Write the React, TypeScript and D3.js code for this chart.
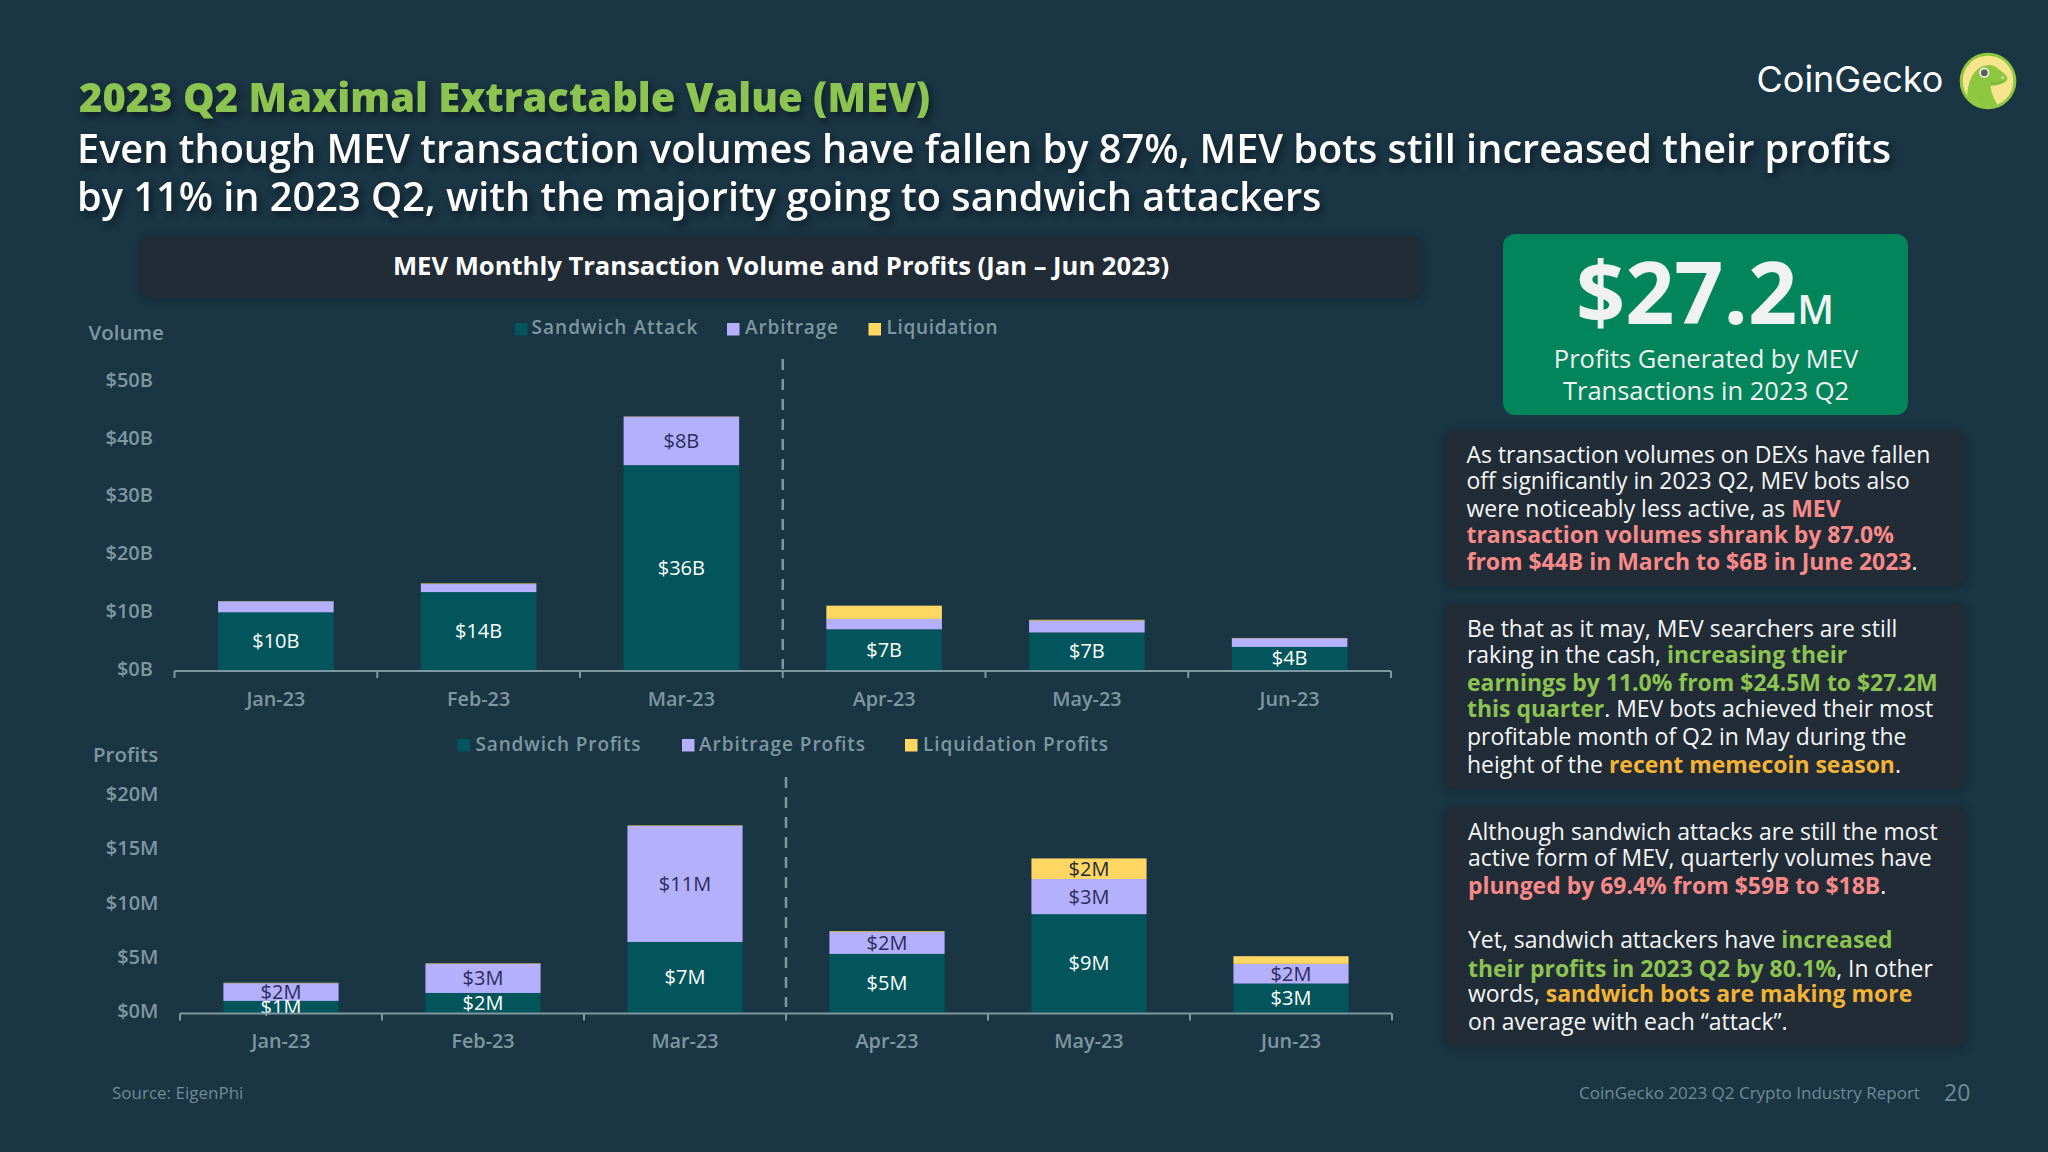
import React from "react";
import * as d3 from "d3";

const months = ["Jan-23", "Feb-23", "Mar-23", "Apr-23", "May-23", "Jun-23"];
const volumeSandwich = [10.0, 13.5, 35.5, 7.05, 6.5, 4.0];
const volumeArbitrage = [1.9, 1.4, 8.4, 1.8, 2.05, 1.5];
const volumeLiquidation = [0.05, 0.1, 0.05, 2.3, 0.15, 0.05];
const profitSandwich = [1.07, 1.8, 6.5, 5.4, 9.06, 2.67];
const profitArbitrage = [1.63, 2.68, 10.69, 2.03, 3.24, 1.81];
const profitLiquidation = [0.04, 0.05, 0.05, 0.07, 1.9, 0.71];
const volumeTicks = [0, 10, 20, 30, 40, 50];
const profitTicks = [0, 5, 10, 15, 20];
const volumeLegend = ["Sandwich Attack", "Arbitrage", "Liquidation"];
const profitLegend = ["Sandwich Profits", "Arbitrage Profits", "Liquidation Profits"];

const FONT = "'Open Sans', sans-serif";
const BG = "#1a3543";
const CARD = "#212c37";
const TEAL = "#02565b";
const LAV = "#b4b0fb";
const YEL = "#ffd762";
const AXIS = "#7e98a2";
const GREEN = "#8cc351";
const RED = "#f98a8a";
const ORANGE = "#f5b335";
const WHITE = "#f6f7f8";
const seriesColors = [TEAL, LAV, YEL];
const labelColors = ["#ffffff", "#2c2c5e", "#1e2b35"];

type Seg = [string, string?];
type Line = { y: number; segs: Seg[] };

const card1: Line[] = [
  { y: 463, segs: [["As transaction volumes on DEXs have fallen"]] },
  { y: 489, segs: [["off significantly in 2023 Q2, MEV bots also"]] },
  { y: 516.5, segs: [["were noticeably less active, as "], ["MEV", RED]] },
  { y: 542.5, segs: [["transaction volumes shrank by 87.0%", RED]] },
  { y: 570, segs: [["from $44B in March to $6B in June 2023", RED], ["."]] },
];
const card2: Line[] = [
  { y: 637, segs: [["Be that as it may, MEV searchers are still"]] },
  { y: 662.5, segs: [["raking in the cash, "], ["increasing their", GREEN]] },
  { y: 691, segs: [["earnings by 11.0% from $24.5M to $27.2M", GREEN]] },
  { y: 717, segs: [["this quarter", GREEN], [". MEV bots achieved their most"]] },
  { y: 744.5, segs: [["profitable month of Q2 in May during the"]] },
  { y: 773, segs: [["height of the "], ["recent memecoin season", ORANGE], ["."]] },
];
const card3: Line[] = [
  { y: 840, segs: [["Although sandwich attacks are still the most"]] },
  { y: 866, segs: [["active form of MEV, quarterly volumes have"]] },
  { y: 894, segs: [["plunged by 69.4% from $59B to $18B", RED], ["."]] },
  { y: 948, segs: [["Yet, sandwich attackers have "], ["increased", GREEN]] },
  { y: 976.5, segs: [["their profits in 2023 Q2 by 80.1%", GREEN], [", In other"]] },
  { y: 1002, segs: [["words, "], ["sandwich bots are making more", ORANGE]] },
  { y: 1030, segs: [["on average with each \u201Cattack\u201D."]] },
];

function TextBlock({ x, lines }: { x: number; lines: Line[] }) {
  return (
    <g fontFamily={FONT} fontSize={22.95} fill={WHITE}>
      {lines.map((l, i) => (
        <text key={i} x={x} y={l.y}>
          {l.segs.map((s, j) => (
            <tspan key={j} fill={s[1] ?? WHITE} fontWeight={s[1] ? 700 : 400}>{s[0]}</tspan>
          ))}
        </text>
      ))}
    </g>
  );
}

type ChartProps = {
  x0: number; x1: number; baseline: number; top: number; max: number;
  ticks: number[]; unit: string; tickRight: number;
  a: number[]; b: number[]; c: number[]; minLabel: number;
  dashTop: number; dashBottom: number; axisY: number;
};

function StackedChart(p: ChartProps) {
  const x = d3.scaleBand<string>().domain(months).range([p.x0, p.x1]).paddingInner(0.43).paddingOuter(0.215);
  const y = d3.scaleLinear().domain([0, p.max]).range([p.baseline, p.top]);
  const rows = months.map((m, i) => ({ m, a: p.a[i], b: p.b[i], c: p.c[i] }));
  const stacked = d3.stack<any>().keys(["a", "b", "c"])(rows);
  const edges = d3.range(months.length + 1).map((i) => p.x0 + (i * (p.x1 - p.x0)) / months.length);
  const fmt = (v: number) => `$${Math.round(v)}${p.unit}`;
  return (
    <g fontFamily={FONT}>
      {p.ticks.map((t) => (
        <text key={t} x={p.tickRight} y={y(t)} dy={5.5} textAnchor="end" fontSize={20} fontWeight={600} fill={AXIS}>{fmt(t)}</text>
      ))}
      {stacked.map((s, k) => (
        <g key={k} fill={seriesColors[k]}>
          {s.map((d, i) => (
            <rect key={i} x={x(months[i])} width={x.bandwidth()} y={y(d[1])} height={y(d[0]) - y(d[1])} />
          ))}
        </g>
      ))}
      {stacked.map((s, k) => (
        <g key={k} fill={labelColors[k]} fontSize={20} textAnchor="middle">
          {s.map((d, i) => d[1] - d[0] >= p.minLabel ? (
            <text key={i} x={x(months[i])! + x.bandwidth() / 2} y={(y(d[0]) + y(d[1])) / 2} dy={7}>{fmt(d[1] - d[0])}</text>
          ) : null)}
        </g>
      ))}
      <line x1={p.x0} x2={p.x1} y1={p.axisY} y2={p.axisY} stroke={AXIS} strokeWidth={2} />
      {edges.map((e, i) => (
        <line key={i} x1={e} x2={e} y1={p.axisY} y2={p.axisY + 7} stroke={AXIS} strokeWidth={2} />
      ))}
      <line x1={edges[3]} x2={edges[3]} y1={p.dashTop} y2={p.dashBottom} stroke={AXIS} strokeWidth={2.5} strokeDasharray="11 9" />
      {months.map((m) => (
        <text key={m} x={x(m)! + x.bandwidth() / 2} y={p.axisY + 34.5} textAnchor="middle" fontSize={19.8} fontWeight={600} fill={AXIS}>{m}</text>
      ))}
    </g>
  );
}

type LegendItem = { label: string; sx: number; tx: number; w: number };
function Legend({ items, y, base }: { items: LegendItem[]; y: number; base: number }) {
  return (
    <g fontFamily={FONT} fontSize={19} fontWeight={600} fill={AXIS}>
      {items.map((it, i) => (
        <g key={i}>
          <rect x={it.sx} y={y} width={12.5} height={12.5} fill={seriesColors[i]} />
          <text x={it.tx} y={base} textLength={it.w} lengthAdjust="spacing">{it.label}</text>
        </g>
      ))}
    </g>
  );
}

function GeckoLogo() {
  return (
    <g transform="translate(1950,40) scale(0.3333)">
      <defs>
        <clipPath id="geckoDisc"><circle cx={114} cy={123} r={76} /></clipPath>
      </defs>
      <circle cx={114} cy={123} r={85} fill="#8dc63f" />
      <circle cx={114} cy={123} r={76} fill="#f6e58d" />
      <path clipPath="url(#geckoDisc)" fill="#8dc63f"
        d="M52 205 C48 160 55 115 78 92 C95 74 125 68 142 84 C152 94 170 102 172 114 C174 128 150 136 122 138 C122 155 132 180 150 205 Z" />
      <circle cx={103} cy={98} r={15} fill="#fff" />
      <circle cx={103} cy={98} r={10.5} fill="#5d6058" />
      <circle cx={158} cy={113} r={4} fill="#d8eea0" />
      <path d="M122 130 Q142 134 162 122" fill="none" stroke="#6fa52c" strokeWidth={2.5} />
    </g>
  );
}

export default function App() {
  const cardShadow = "drop-shadow(0 1px 4px rgba(10,20,30,0.35))";
  const textShadow = "drop-shadow(3px 4px 3px rgba(5,15,25,0.6))";
  return (
    <svg width={2048} height={1152} viewBox="0 0 2048 1152" style={{ position: "absolute", left: 0, top: 0, display: "block" }}>
      <rect width={2048} height={1152} fill={BG} />

      <g fontFamily={FONT} style={{ filter: textShadow }}>
        <text x={79} y={112} fontSize={40} fontWeight={800} fill={GREEN} textLength={851} lengthAdjust="spacingAndGlyphs">2023 Q2 Maximal Extractable Value (MEV)</text>
        <text x={77} y={163} fontSize={39.7} fontWeight={600} fill="#fff">Even though MEV transaction volumes have fallen by 87%, MEV bots still increased their profits</text>
        <text x={77} y={211} fontSize={39.7} fontWeight={600} fill="#fff">by 11% in 2023 Q2, with the majority going to sandwich attackers</text>
      </g>

      <text x={1756.5} y={92} fontFamily="Inter, sans-serif" fontSize={36} fill="#fff">CoinGecko</text>
      <GeckoLogo />

      <g style={{ filter: cardShadow }} fill={CARD}>
        <rect x={140} y={236} width={1282} height={62} rx={10} />
        <rect x={1444} y={431} width={522} height={155} rx={10} />
        <rect x={1444} y={604} width={523} height={185} rx={10} />
        <rect x={1444} y={807} width={523} height={240} rx={10} />
      </g>
      <rect x={1503} y={234} width={405} height={181} rx={12} fill="#03855c" />

      <text x={781} y={275} textAnchor="middle" fontFamily={FONT} fontSize={25.6} fontWeight={700} fill="#fff">MEV Monthly Transaction Volume and Profits (Jan – Jun 2023)</text>

      <g fontFamily={FONT} textAnchor="middle">
        <text x={1705} y={324} fill="#f0f2f2" fontWeight={700}>
          <tspan fontSize={86}>$27.2</tspan>
          <tspan fontSize={40} fontWeight={600}>M</tspan>
        </text>
        <text x={1706} y={368} fontSize={25.5} fill="#f0f2f2">Profits Generated by MEV</text>
        <text x={1706} y={399.5} fontSize={25.5} fill="#f0f2f2">Transactions in 2023 Q2</text>
      </g>

      <TextBlock x={1466.5} lines={card1} />
      <TextBlock x={1467} lines={card2} />
      <TextBlock x={1468} lines={card3} />

      <g fontFamily={FONT} fontSize={20.5} fontWeight={600} fill={AXIS}>
        <text x={88.5} y={340}>Volume</text>
        <text x={93} y={762}>Profits</text>
      </g>

      <Legend y={323} base={334} items={[
        { label: volumeLegend[0], sx: 515, tx: 531.5, w: 166 },
        { label: volumeLegend[1], sx: 727, tx: 745, w: 93 },
        { label: volumeLegend[2], sx: 868.5, tx: 886.5, w: 111 },
      ]} />
      <StackedChart x0={174.5} x1={1391} baseline={670} top={381.5} max={50} ticks={volumeTicks} unit="B" tickRight={153}
        a={volumeSandwich} b={volumeArbitrage} c={volumeLiquidation} minLabel={4}
        dashTop={359} dashBottom={669} axisY={671} />

      <Legend y={739} base={750.5} items={[
        { label: profitLegend[0], sx: 457.5, tx: 475.5, w: 165 },
        { label: profitLegend[1], sx: 682, tx: 699, w: 166 },
        { label: profitLegend[2], sx: 905, tx: 923, w: 185 },
      ]} />
      <StackedChart x0={180} x1={1392} baseline={1012.5} top={795.5} max={20} ticks={profitTicks} unit="M" tickRight={158.5}
        a={profitSandwich} b={profitArbitrage} c={profitLiquidation} minLabel={1}
        dashTop={777} dashBottom={1007} axisY={1013.5} />

      <g fontFamily={FONT} fill="#6f8b97">
        <text x={112} y={1098.5} fontSize={17}>Source: EigenPhi</text>
        <text x={1579} y={1099} fontSize={17}>CoinGecko 2023 Q2 Crypto Industry Report</text>
        <text x={1944} y={1101} fontSize={23}>20</text>
      </g>
    </svg>
  );
}
